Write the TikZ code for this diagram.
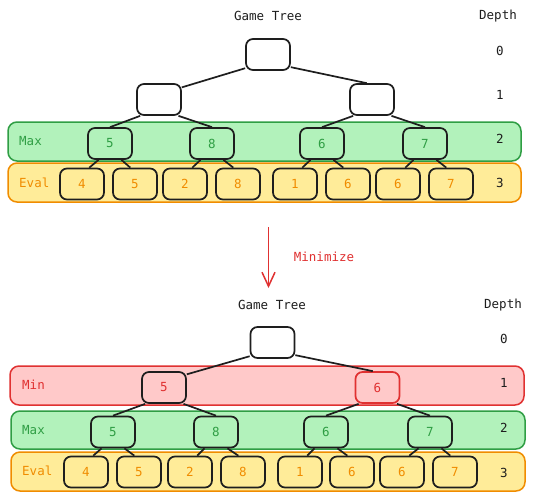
\documentclass[tikz,border=0pt]{standalone}
\usepackage{fontspec}
\setmonofont{DejaVu Sans Mono}
\usetikzlibrary{arrows.meta}
\definecolor{ink}{HTML}{1E1E1E}
\definecolor{gfill}{HTML}{B2F2BB}
\definecolor{gline}{HTML}{2F9E44}
\definecolor{yfill}{HTML}{FFEC99}
\definecolor{oline}{HTML}{F08C00}
\definecolor{rfill}{HTML}{FFC9C9}
\definecolor{rline}{HTML}{E03131}
\begin{document}
\begin{tikzpicture}[x=1pt,y=-1pt,
  font=\ttfamily\fontsize{12.5}{14}\selectfont,
  band/.style={line width=1.5pt, rounded corners=9pt, minimum width=513pt, minimum height=39pt, inner sep=0pt},
  tnode/.style={draw=ink, line width=1.7pt, rounded corners=7pt, minimum width=44pt, minimum height=31pt, inner sep=0pt},
  gnode/.style={tnode, text=gline},
  lnode/.style={tnode, text=oline},
  mnode/.style={tnode, text=rline},
  edge/.style={draw=ink, line width=1.7pt},
  lbl/.style={anchor=west, inner sep=0pt},
  txt/.style={inner sep=0pt, text=ink}]
\useasboundingbox (0,0) rectangle (553,501);
\fill[white] (0,0) rectangle (553,501);

% ---------------- top tree ----------------
\node[band, fill=gfill, draw=gline] (gband1) at (264.5,141.5) {};
\node[band, fill=yfill, draw=oline] (yband1) at (264.5,182.5) {};
\node[lbl, text=gline] (maxlbl1) at (19,141) {Max};
\node[lbl, text=oline] (evallbl1) at (19,183) {Eval};

\node[txt] (title1) at (268,16) {Game Tree};
\node[txt] (depth1) at (498,16) {Depth};
\node[txt] (d10) at (500,51) {0};
\node[txt] (d11) at (500,95) {1};
\node[txt] (d12) at (500,139) {2};
\node[txt] (d13) at (500,183) {3};

\node[tnode, fill=white] (r1) at (268,54.5) {};
\node[tnode, fill=white] (a1) at (159,99.5) {};
\node[tnode, fill=white] (b1) at (372,99.5) {};
\node[gnode] (a1a) at (110,143.5) {5};
\node[gnode] (a1b) at (212,143.5) {8};
\node[gnode] (b1a) at (322,143.5) {6};
\node[gnode] (b1b) at (425,143.5) {7};
\node[lnode] (l11) at (82,184) {4};
\node[lnode] (l12) at (135,184) {5};
\node[lnode] (l13) at (185,184) {2};
\node[lnode] (l14) at (238,184) {8};
\node[lnode] (l15) at (295,184) {1};
\node[lnode] (l16) at (348,184) {6};
\node[lnode] (l17) at (398,184) {6};
\node[lnode] (l18) at (451,184) {7};

\draw[edge] (r1.211) -- (a1.28);
\draw[edge] (r1.331) -- (b1.108);
\draw[edge] (a1.221) -- (a1a.north);
\draw[edge] (a1.320) -- (a1b.north);
\draw[edge] (b1.221) -- (b1a.north);
\draw[edge] (b1.320) -- (b1b.north);
\draw[edge] (a1a.235) -- (l11.66);
\draw[edge] (a1a.305) -- (l12.106);
\draw[edge] (a1b.235) -- (l13.66);
\draw[edge] (a1b.305) -- (l14.106);
\draw[edge] (b1a.235) -- (l15.66);
\draw[edge] (b1a.305) -- (l16.106);
\draw[edge] (b1b.235) -- (l17.66);
\draw[edge] (b1b.305) -- (l18.106);

% ---------------- arrow ----------------
\coordinate (arrs) at (268.5,227);
\coordinate (arre) at (268.5,288);
\draw[draw=rline, line width=1.5pt, -{Straight Barb[length=14pt,width=13pt,line width=1.5pt]}] (arrs) -- (arre);
\node[txt, text=rline] (minimize) at (324,257) {Minimize};

% ---------------- bottom tree ----------------
\node[band, fill=rfill, draw=rline, minimum width=514pt] (rband2) at (267,385.5) {};
\node[band, fill=gfill, draw=gline, minimum width=514pt, minimum height=38pt] (gband2) at (268,430) {};
\node[band, fill=yfill, draw=oline, minimum width=514pt] (yband2) at (268,471.5) {};
\node[lbl, text=rline] (minlbl2) at (22,385) {Min};
\node[lbl, text=gline] (maxlbl2) at (22,430) {Max};
\node[lbl, text=oline] (evallbl2) at (22,471) {Eval};

\node[txt] (title2) at (272,305) {Game Tree};
\node[txt] (depth2) at (503,305) {Depth};
\node[txt] (d20) at (504,339) {0};
\node[txt] (d21) at (504,383) {1};
\node[txt] (d22) at (504,428) {2};
\node[txt] (d23) at (504,473) {3};

\node[tnode, fill=white] (r2) at (272.5,342.5) {};
\node[mnode] (a2) at (164,387.5) {5};
\node[mnode, draw=rline] (b2) at (377.5,387.5) {6};
\node[gnode] (a2a) at (113,432) {5};
\node[gnode] (a2b) at (216,432) {8};
\node[gnode] (b2a) at (326,432) {6};
\node[gnode] (b2b) at (430,432) {7};
\node[lnode] (l21) at (86,472) {4};
\node[lnode] (l22) at (139,472) {5};
\node[lnode] (l23) at (190,472) {2};
\node[lnode] (l24) at (243,472) {8};
\node[lnode] (l25) at (300,472) {1};
\node[lnode] (l26) at (352,472) {6};
\node[lnode] (l27) at (402,472) {6};
\node[lnode] (l28) at (455,472) {7};

\draw[edge] (r2.211) -- (a2.30);
\draw[edge] (r2.331) -- (b2.106);
\draw[edge] (a2.221) -- (a2a.north);
\draw[edge] (a2.320) -- (a2b.north);
\draw[edge] (b2.221) -- (b2a.north);
\draw[edge] (b2.320) -- (b2b.north);
\draw[edge] (a2a.235) -- (l21.66);
\draw[edge] (a2a.305) -- (l22.106);
\draw[edge] (a2b.235) -- (l23.66);
\draw[edge] (a2b.305) -- (l24.106);
\draw[edge] (b2a.235) -- (l25.66);
\draw[edge] (b2a.305) -- (l26.106);
\draw[edge] (b2b.235) -- (l27.66);
\draw[edge] (b2b.305) -- (l28.106);
\end{tikzpicture}
\end{document}
